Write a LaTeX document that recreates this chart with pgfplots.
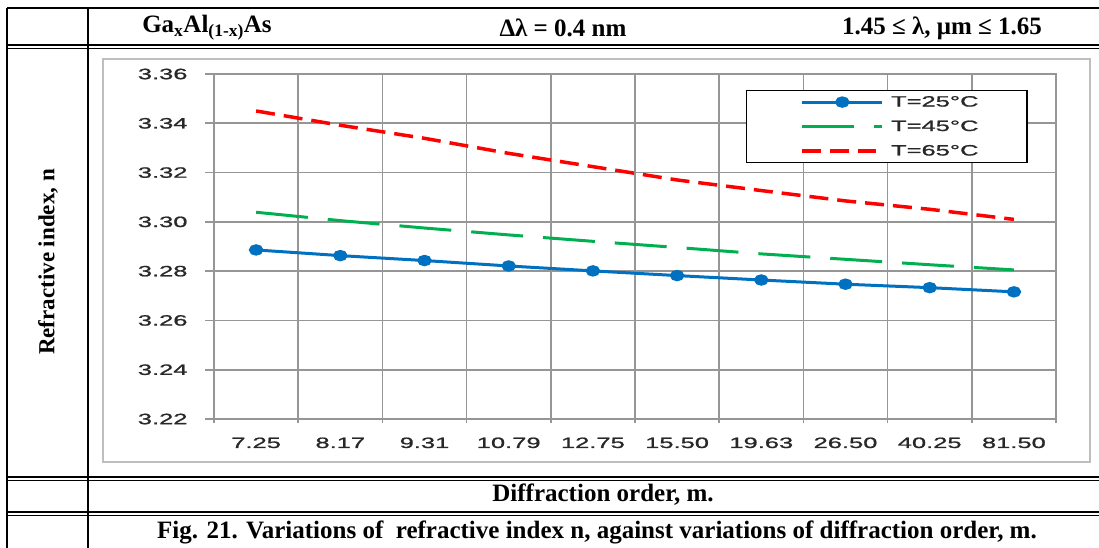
\documentclass[border=0pt]{standalone}
\usepackage{fontspec}
\setmainfont{Liberation Serif}
\newfontfamily\tickfont[FakeStretch=1.7,FakeBold=1.2]{Liberation Sans}
\usepackage{pgfplots}
\pgfplotsset{compat=1.18}
\definecolor{gblue}{RGB}{0,112,192}
\definecolor{ggreen}{RGB}{0,176,80}
\definecolor{gred}{RGB}{255,0,0}
\definecolor{gridg}{RGB}{150,150,150}
\definecolor{tickc}{RGB}{40,40,40}
\definecolor{boxg}{RGB}{190,190,190}

\pgfplotsset{
  legmark/.style={legend image code/.code={\path (-54bp,0bp) (85bp,0bp); \draw[mark repeat=2,mark phase=2,##1] plot coordinates {(0bp,0bp)(40bp,0bp)(80bp,0bp)};}},
  legline/.style={legend image code/.code={\path (-54bp,0bp) (85bp,0bp); \draw[##1] (0bp,0bp) -- (#1,0bp);}},
}

\pgfplotstableread{
x n25 n45 n65
0 3.2886 3.3039 3.3450
1 3.2863 3.3005 3.3392
2 3.2843 3.2975 3.3339
3 3.2821 3.2947 3.3278
4 3.2801 3.2921 3.3224
5 3.2782 3.2896 3.3170
6 3.2764 3.2870 3.3127
7 3.2747 3.2848 3.3085
8 3.2733 3.2826 3.3051
9 3.2716 3.2805 3.3010
}\datatable

\begin{document}
\begin{tikzpicture}
\path[use as bounding box] (0,0) rectangle (1099bp,-548bp);
\begin{scope}[x=1bp,y=-1bp]
 % outer table frame
 \draw[line width=1.3bp] (7,8) -- (1099,8);
 \draw[line width=1.3bp] (7,45) -- (1099,45);
 \draw[line width=0.8bp] (7,48) -- (1099,48);
 \draw[line width=1.3bp] (7,477) -- (1099,477);
 \draw[line width=0.8bp] (7,480) -- (1099,480);
 \draw[line width=1.3bp] (7,512) -- (1099,512);
 \draw[line width=0.8bp] (7,515) -- (1099,515);
 \draw[line width=1.5bp] (7,8) -- (7,548);
 \draw[line width=1.3bp] (88,8) -- (88,548);
 % inner chart box
 \draw[boxg, line width=1.5bp] (103,59) rectangle (1090,462);
 % texts
 \begingroup
 \fontsize{25bp}{29bp}\selectfont\bfseries
 \node at (207,28) {Ga\textsubscript{x}Al\textsubscript{(1-x)}As};
 \node at (563,28) {Δλ = 0.4 nm};
 \node at (942,28) {1.45 ≤ λ, μm ≤ 1.65};
 \node at (603,495) {Diffraction order, m.};
 \node at (597,532) {Fig. 21. Variations of\ \ refractive index n, against variations of diffraction order, m.};
 \fontsize{23bp}{27bp}\selectfont
 \node[rotate=90] at (48,262) {Refractive index, n};
 \endgroup
\end{scope}
\begin{axis}[
  at={(214bp,-419bp)}, anchor=south west,
  width=842bp, height=345bp, scale only axis,
  xmin=-0.5, xmax=9.5, ymin=3.22, ymax=3.36,
  xtick={0,...,9},
  xticklabels={7.25,8.17,9.31,10.79,12.75,15.50,19.63,26.50,40.25,81.50},
  minor xtick={-0.5,0.5,...,9.5},
  xminorgrids=true,
  ytick={3.22,3.24,3.26,3.28,3.30,3.32,3.34,3.36},
  ymajorgrids=true,
  yticklabel style={/pgf/number format/fixed, /pgf/number format/fixed zerofill, /pgf/number format/precision=2},
  /pgf/number format/assume math mode=true,
  tick pos=left,
  tick align=outside,
  major tick length=9bp,
  minor tick length=4bp,
  major x tick style={draw=none},
  every tick/.style={gridg, line width=1.6bp},
  grid style={gridg, line width=1.6bp},
  minor grid style={gridg, line width=1.6bp},
  axis line style={gridg, line width=1.6bp},
  tick label style={font=\tickfont\fontsize{15bp}{18bp}\selectfont, text=tickc},
  xticklabel style={yshift=-6bp},
  yticklabel style={xshift=-14bp},
  legend style={at={(0.6318,0.9536)}, anchor=north west, draw=black, line width=1.2bp, fill=white,
    font=\tickfont\fontsize{15bp}{18bp}\selectfont, text=tickc, inner xsep=0bp, inner ysep=3.5bp, row sep=8.5bp},
  legend cell align=left,
]
\addplot[gblue, line width=3bp, mark=*, mark size=4.2bp, mark options={xscale=1.35, solid}, legmark]
  table[x=x,y=n25]{\datatable};
\addlegendentry{\makebox[134bp][l]{T=25°C}}
\addplot[ggreen, line width=3bp, dash pattern=on 52bp off 20bp, legline=80bp]
  table[x=x,y=n45]{\datatable};
\addlegendentry{\makebox[134bp][l]{T=45°C}}
\addplot[gred, line width=3.5bp, dash pattern=on 19bp off 9bp, legline=74bp]
  table[x=x,y=n65]{\datatable};
\addlegendentry{\makebox[134bp][l]{T=65°C}}
\end{axis}
\end{tikzpicture}
\end{document}
